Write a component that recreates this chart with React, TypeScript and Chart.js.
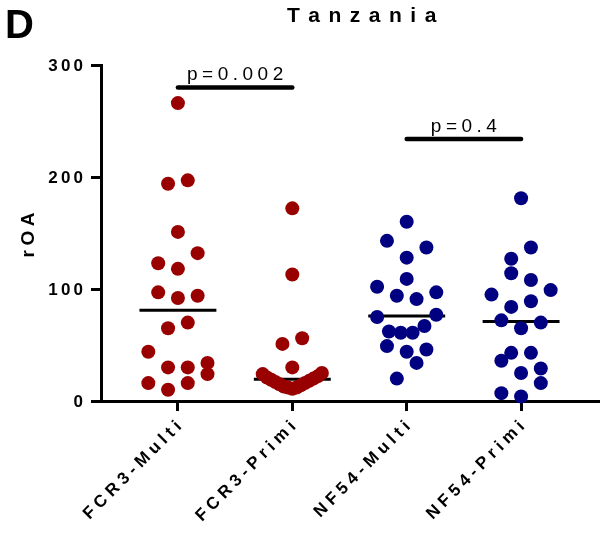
import { useEffect, useRef } from "react";
import { Chart, registerables } from "chart.js";

Chart.register(...registerables);

// Groups along the x axis
const groups = ["FCR3-Multi", "FCR3-Primi", "NF54-Multi", "NF54-Primi"];

// rOA per individual, one array per group
const fcr3Multi = [266, 197, 194, 151, 132, 123, 118, 97, 94, 92, 70, 65, 44, 34, 30, 30, 24, 16, 16, 10];
const fcr3Primi = [172, 113, 56, 51, 30, 25, 24, 22, 21, 20, 19, 18, 17, 16, 15, 14, 13, 12, 12, 11];
const nf54Multi = [160, 143, 137, 128, 109, 102, 97, 94, 91, 77, 75, 67, 62, 61, 61, 49, 46, 44, 34, 20];
const nf54Primi = [181, 137, 127, 114, 108, 99, 95, 89, 84, 72, 70, 65, 43, 43, 36, 29, 25, 16, 7, 4];

const groupValues = [fcr3Multi, fcr3Primi, nf54Multi, nf54Primi];
const groupColors = ["#990000", "#990000", "#000080", "#000080"];

// y axis
const yTicks = [0, 100, 200, 300];

// significance brackets
const pLabels = ["p=0.002", "p=0.4"];
const pPairs = [
  [0, 1],
  [2, 3],
];
const pLevels = [280, 234];

const FONT = "'Liberation Sans', Arial, Helvetica, sans-serif";

// Scatter dot-plot layout (in category units / value units)
const ROW_SPAN = 17;
const PITCH = 20 / 116;
const HALF_WIDTH = 30 / 116;
const MEDIAN_HALF = 39 / 116;
const X_PAD = 78 / 116;

function median(values: number[]) {
  const s = [...values].sort((a, b) => a - b);
  const m = Math.floor(s.length / 2);
  return s.length % 2 ? s[m] : (s[m - 1] + s[m]) / 2;
}

// Spread points sideways: values close together share a row, the lowest in the
// middle and the rest alternating outwards, squeezed to fit the column width.
function swarm(values: number[], center: number) {
  const sorted = [...values].sort((a, b) => a - b);
  const pts: { x: number; y: number }[] = [];
  let i = 0;
  let row = 0;
  while (i < sorted.length) {
    const start = sorted[i];
    let j = i;
    while (j < sorted.length && sorted[j] < start + ROW_SPAN) j++;
    const rowVals = sorted.slice(i, j);
    const n = rowVals.length;
    const pitch = n > 1 ? Math.min(PITCH, (2 * HALF_WIDTH) / (n - 1)) : 0;
    const dir = row % 2 ? 1 : -1;
    const slots = rowVals.map((_, k) => (k - (n - 1) / 2) * pitch);
    slots.sort((a, b) => Math.abs(a) - Math.abs(b) || (a - b) * -dir);
    rowVals.forEach((v, k) => pts.push({ x: center + slots[k], y: v }));
    i = j;
    row++;
  }
  return pts;
}

function spacedText(
  ctx: CanvasRenderingContext2D,
  text: string,
  x: number,
  y: number,
  spacing: number,
  align: "left" | "center" | "right"
) {
  const chars = [...text];
  const widths = chars.map((c) => ctx.measureText(c).width);
  const total = widths.reduce((a, b) => a + b, 0) + spacing * (chars.length - 1);
  let cx = align === "left" ? x : align === "center" ? x - total / 2 : x - total;
  ctx.textAlign = "left";
  chars.forEach((c, k) => {
    ctx.fillText(c, cx, y);
    cx += widths[k] + spacing;
  });
}

const textPlugin = {
  id: "panelText",
  afterDraw(chart: any) {
    const ctx: CanvasRenderingContext2D = chart.ctx;
    const xs = chart.scales.x;
    const ys = chart.scales.y;
    const area = chart.chartArea;
    ctx.save();
    ctx.fillStyle = "#000";

    // panel letter
    ctx.font = `bold 40px ${FONT}`;
    ctx.textBaseline = "alphabetic";
    ctx.textAlign = "left";
    ctx.fillText("D", 5, 38);

    // title
    ctx.font = `bold 21px ${FONT}`;
    spacedText(ctx, "Tanzania", 287, 22, 8.5, "left");

    // y tick labels
    ctx.font = `bold 17px ${FONT}`;
    ctx.textBaseline = "middle";
    yTicks.forEach((v) => spacedText(ctx, String(v), area.left - 18, ys.getPixelForValue(v) + 1, 3.2, "right"));

    // y axis title
    ctx.save();
    ctx.translate(29, (area.top + area.bottom) / 2 + 2);
    ctx.rotate(-Math.PI / 2);
    ctx.font = `bold 19px ${FONT}`;
    ctx.textBaseline = "middle";
    spacedText(ctx, "rOA", 0, 0, 4.5, "center");
    ctx.restore();

    // x tick labels, rotated
    ctx.font = `bold 17px ${FONT}`;
    groups.forEach((g, k) => {
      ctx.save();
      ctx.translate(xs.getPixelForValue(k) + 1, area.bottom + 23);
      ctx.rotate(-Math.PI / 4);
      ctx.textBaseline = "middle";
      spacedText(ctx, g, 0, 0, 4.6, "right");
      ctx.restore();
    });

    // p values above the brackets
    ctx.font = `19px ${FONT}`;
    ctx.textBaseline = "alphabetic";
    pLabels.forEach((lab, k) => {
      const [a, b] = pPairs[k];
      const cx = (xs.getPixelForValue(a) + xs.getPixelForValue(b)) / 2;
      spacedText(ctx, lab, cx, ys.getPixelForValue(pLevels[k]) - 7, 4.5, "center");
    });
    ctx.restore();
  },
};

export default function App() {
  const ref = useRef<HTMLCanvasElement | null>(null);

  useEffect(() => {
    if (!ref.current) return;

    const dots = groupValues.map((vals, k) => ({
      type: "scatter" as const,
      data: swarm(vals, k),
      backgroundColor: groupColors[k],
      borderWidth: 0,
      pointRadius: 7,
      pointHoverRadius: 7,
      clip: false as const,
      order: 0,
    }));

    const medians = groupValues.map((vals, k) => {
      const m = median(vals);
      return {
        type: "scatter" as const,
        data: [
          { x: k - MEDIAN_HALF, y: m },
          { x: k + MEDIAN_HALF, y: m },
        ],
        showLine: true,
        borderColor: "#000",
        borderWidth: 3,
        pointRadius: 0,
        clip: false as const,
        order: 1,
      };
    });

    const brackets = pPairs.map(([a, b], k) => ({
      type: "scatter" as const,
      data: [
        { x: a, y: pLevels[k] },
        { x: b, y: pLevels[k] },
      ],
      showLine: true,
      borderColor: "#000",
      borderWidth: 4.5,
      borderCapStyle: "round" as const,
      pointRadius: 0,
      clip: false as const,
      order: 1,
    }));

    const chart = new Chart(ref.current, {
      type: "scatter",
      data: { datasets: [...dots, ...medians, ...brackets] as any },
      options: {
        animation: false,
        responsive: false,
        devicePixelRatio: 1,
        events: [],
        layout: { padding: { top: 65, left: 0, right: 0, bottom: 0 } },
        plugins: { legend: { display: false }, tooltip: { enabled: false }, title: { display: false } },
        scales: {
          x: {
            type: "linear",
            min: -X_PAD,
            max: groups.length - 1 + X_PAD,
            afterBuildTicks: (s: any) => {
              s.ticks = groups.map((_, k) => ({ value: k }));
            },
            afterFit: (s: any) => {
              s.height = 132;
            },
            ticks: { display: false },
            grid: {
              display: true,
              drawOnChartArea: false,
              drawTicks: true,
              tickLength: 10,
              lineWidth: 3,
              color: "#000",
            },
            border: { display: true, color: "#000", width: 3 },
          },
          y: {
            type: "linear",
            min: 0,
            max: 300,
            afterBuildTicks: (s: any) => {
              s.ticks = yTicks.map((v) => ({ value: v }));
            },
            afterFit: (s: any) => {
              s.width = 101;
            },
            ticks: { display: false },
            grid: {
              display: true,
              drawOnChartArea: false,
              drawTicks: true,
              tickLength: 10,
              lineWidth: 3,
              color: "#000",
            },
            border: { display: true, color: "#000", width: 3 },
          },
        },
      },
      plugins: [textPlugin],
    });

    return () => chart.destroy();
  }, []);

  return (
    <div style={{ position: "absolute", left: 0, top: 0, width: 605, height: 533, background: "#fff" }}>
      <canvas ref={ref} width={605} height={533} style={{ display: "block" }} />
    </div>
  );
}
